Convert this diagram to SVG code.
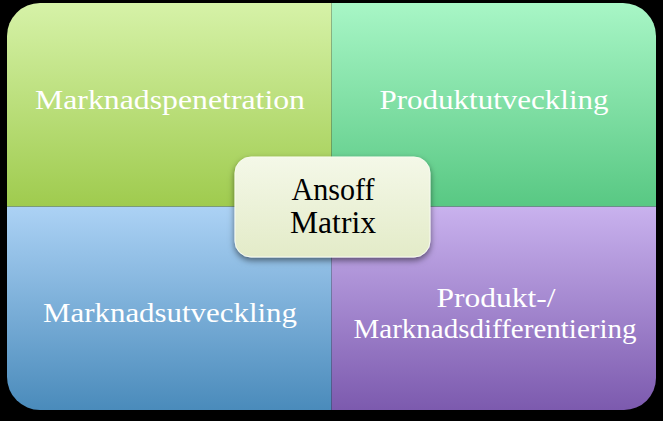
<svg xmlns="http://www.w3.org/2000/svg" width="663" height="421" viewBox="0 0 663 421">
<defs>
<linearGradient id="gTL" x1="0" y1="0" x2="0" y2="1"><stop offset="0" stop-color="#d6f2a8"/><stop offset="1" stop-color="#9fcb4e"/></linearGradient>
<linearGradient id="gTR" x1="0" y1="0" x2="0" y2="1"><stop offset="0" stop-color="#a8f6c6"/><stop offset="1" stop-color="#58c883"/></linearGradient>
<linearGradient id="gBL" x1="0" y1="0" x2="0" y2="1"><stop offset="0" stop-color="#acd2f5"/><stop offset="1" stop-color="#4a8bbb"/></linearGradient>
<linearGradient id="gBR" x1="0" y1="0" x2="0" y2="1"><stop offset="0" stop-color="#c9b2ee"/><stop offset="1" stop-color="#7c5aae"/></linearGradient>
<linearGradient id="gC" x1="0" y1="0" x2="0" y2="1"><stop offset="0" stop-color="#f4f8e8"/><stop offset="1" stop-color="#e3ebc8"/></linearGradient>
<filter id="sh" x="-20%" y="-20%" width="140%" height="150%"><feDropShadow dx="0" dy="3" stdDeviation="3" flood-color="#000" flood-opacity="0.5"/></filter>
</defs>
<style>
.q{stroke:none}
.div{stroke:#000000;stroke-opacity:0.25;stroke-width:1}
.lbl{font-family:"Liberation Serif","DejaVu Serif",serif;font-size:28px;fill:#ffffff;text-anchor:middle}
.ctr{font-family:"Liberation Serif","DejaVu Serif",serif;font-size:32px;fill:#000000;text-anchor:middle}
</style>
<rect x="0" y="0" width="663" height="421" fill="#000000"/>
<g id="q-tl">
<path class="q" fill="url(#gTL)" d="M7,207 L7,36 A33,33 0 0 1 40,3 L332,3 L332,207 Z"/>
<text class="lbl" x="170" y="109" textLength="270" lengthAdjust="spacingAndGlyphs">Marknadspenetration</text>
</g>
<g id="q-tr">
<path class="q" fill="url(#gTR)" d="M331.5,3 L623,3 A33,33 0 0 1 656,36 L656,207 L331.5,207 Z"/>
<text class="lbl" x="494" y="109" textLength="229" lengthAdjust="spacingAndGlyphs">Produktutveckling</text>
</g>
<g id="q-bl">
<path class="q" fill="url(#gBL)" d="M7,206.5 L332,206.5 L332,410 L40,410 A33,33 0 0 1 7,377 Z"/>
<text class="lbl" x="170" y="322" textLength="254" lengthAdjust="spacingAndGlyphs">Marknadsutveckling</text>
</g>
<g id="q-br">
<path class="q" fill="url(#gBR)" d="M331.5,206.5 L656,206.5 L656,378 A32,32 0 0 1 624,410 L331.5,410 Z"/>
<text class="lbl" x="496" y="307" textLength="119" lengthAdjust="spacingAndGlyphs">Produkt-/</text>
<text class="lbl" x="495" y="338" textLength="283" lengthAdjust="spacingAndGlyphs">Marknadsdifferentiering</text>
</g>
<g id="connectors">
<line class="div" x1="331.5" y1="3" x2="331.5" y2="410"/>
<line class="div" x1="7" y1="206.5" x2="656" y2="206.5"/>
</g>
<g id="center">
<rect x="235" y="157" width="195" height="100" rx="16" ry="16" fill="url(#gC)" stroke="#f8fbef" stroke-width="1" filter="url(#sh)"/>
<text class="ctr" x="333" y="200" textLength="83" lengthAdjust="spacingAndGlyphs">Ansoff</text>
<text class="ctr" x="333" y="233" textLength="86" lengthAdjust="spacingAndGlyphs">Matrix</text>
</g>
</svg>
